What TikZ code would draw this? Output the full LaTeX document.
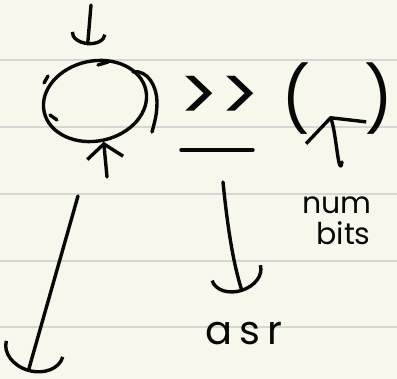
\documentclass[tikz,border=0pt]{standalone}
\usepackage{fontspec}
\setmainfont{Poppins}
\usetikzlibrary{arrows.meta,shapes.geometric}
\definecolor{noteBg}{HTML}{F8F7EC}
\definecolor{noteRule}{HTML}{D6D6D4}
\definecolor{noteInk}{HTML}{080808}

\begin{document}
\begin{tikzpicture}[x=1pt,y=-1pt,
    pen/.style={draw=noteInk, line width=3.4pt, line cap=round, line join=round},
    ink/.style={text=noteInk, inner sep=0pt},
    rule/.style={draw=noteRule, line width=2pt}]
  \fill[noteBg] (0,0) rectangle (397,379);
  \useasboundingbox (0,0) rectangle (397,379);
  \foreach \y in {60,127,194,261,327}
    \draw[rule] (0,\y) -- (397,\y);

  \node[pen, ellipse, rotate=12, minimum width=104pt, minimum height=80pt, inner sep=0pt] (ring) at (95,101) {};
  \draw[pen] (98,65) -- (108,62);
  \draw[pen] (48,76) -- (44,83);
  \draw[pen] (50,115) -- (57,120);
  \draw[pen] (133,72) to[out=10,in=90] (157,102) to[out=-90,in=75] (152,132);

  \coordinate (inlet) at (91,5);
  \draw[pen, -{Arc Barb[length=12pt,width=36pt]}, shorten >=15pt] (inlet) -- (ring.north);
  \coordinate (feed) at (107,177);
  \draw[pen, -{Straight Barb[length=14pt,width=36pt]}] (feed) -- (ring.south);
  \coordinate (dropTop) at (78,196);
  \coordinate (dropEnd) at (28,372);
  \draw[pen, -{Arc Barb[length=24pt,width=62pt]}] (dropTop) -- (dropEnd);

  \node[ink, font=\fontsize{76}{76}\selectfont] (shift) at (219,99) {>{}>};
  \draw[pen] (181,150) -- (253,150);
  \node[ink, font=\fontsize{64}{64}\selectfont] (paren) at (338,99) {(\hspace{54pt})};
  \node[ink, font=\fontsize{30}{31}\selectfont, align=left] (numbits) at (337,221) {num\\\hspace{14pt}bits};
  \node[ink, font=\fontsize{40}{40}\selectfont\addfontfeatures{LetterSpace=18}] (asr) at (244,334) {asr};

  \coordinate (stem) at (342,162);
  \coordinate (hook) at (330,116);
  \draw[pen, -{Straight Barb[length=16pt,width=64pt]}] (stem) to[out=-100,in=-70] (hook);
  \coordinate (fromop) at (223,182);
  \draw[pen, -{Arc Barb[length=20pt,width=54pt]}, shorten >=32pt] (fromop) to[bend right=6] ([xshift=8pt]asr.north);
\end{tikzpicture}
\end{document}
